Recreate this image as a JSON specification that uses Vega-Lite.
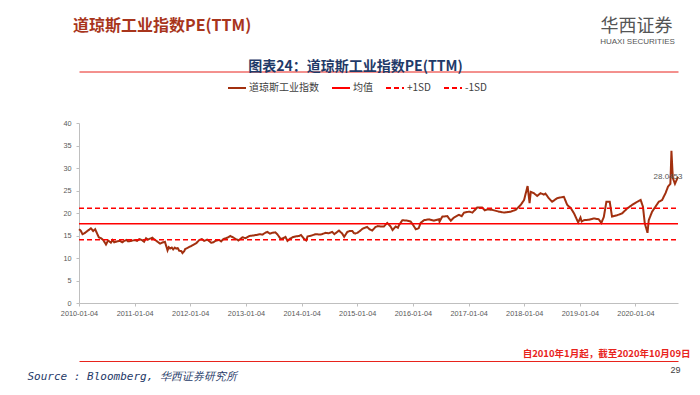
{
  "$schema": "https://vega.github.io/schema/vega-lite/v6.json",
  "width": 599,
  "height": 180,
  "autosize": {"type": "none"},
  "padding": {"left": 79, "top": 123, "right": 22, "bottom": 92},
  "background": "white",
  "title": {"text": "道琼斯工业指数PE(TTM)", "anchor": "start", "frame": "group", "dx": -6, "offset": -17, "font": "Noto Sans CJK SC", "fontSize": 16, "fontWeight": "bold", "color": "#A8351C"},
  "config": {
    "view": {"stroke": null},
    "legend": {"orient": "none", "legendX": 148, "legendY": -45, "direction": "horizontal", "symbolType": "stroke", "symbolSize": 324, "symbolStrokeWidth": 2, "labelFont": "Noto Sans CJK SC", "labelFontSize": 10, "labelColor": "#404040", "columnPadding": 9, "labelOffset": 2}
  },
  "datasets": {
    "pe": [
      {"date": "2010-01-04", "pe": 16.4}, {"date": "2010-01-15", "pe": 16.1}, {"date": "2010-01-27", "pe": 15.3}, {"date": "2010-02-09", "pe": 15.5},
      {"date": "2010-02-28", "pe": 16.0}, {"date": "2010-03-12", "pe": 16.3}, {"date": "2010-03-23", "pe": 16.6}, {"date": "2010-04-07", "pe": 16.0},
      {"date": "2010-04-20", "pe": 16.4}, {"date": "2010-05-06", "pe": 15.2}, {"date": "2010-05-14", "pe": 14.6}, {"date": "2010-05-28", "pe": 14.4},
      {"date": "2010-06-12", "pe": 14.0}, {"date": "2010-06-30", "pe": 13.0}, {"date": "2010-07-14", "pe": 13.9}, {"date": "2010-08-01", "pe": 13.4},
      {"date": "2010-08-12", "pe": 14.0}, {"date": "2010-08-23", "pe": 13.5}, {"date": "2010-09-12", "pe": 13.7}, {"date": "2010-10-01", "pe": 13.8},
      {"date": "2010-10-15", "pe": 13.5}, {"date": "2010-10-28", "pe": 13.8}, {"date": "2010-11-12", "pe": 14.0}, {"date": "2010-11-23", "pe": 13.7},
      {"date": "2010-12-13", "pe": 13.8}, {"date": "2011-01-06", "pe": 14.0}, {"date": "2011-01-20", "pe": 13.8}, {"date": "2011-02-04", "pe": 14.2},
      {"date": "2011-02-20", "pe": 14.0}, {"date": "2011-03-07", "pe": 13.6}, {"date": "2011-03-20", "pe": 14.4}, {"date": "2011-04-01", "pe": 14.1},
      {"date": "2011-04-15", "pe": 14.3}, {"date": "2011-05-01", "pe": 14.5}, {"date": "2011-05-11", "pe": 14.2}, {"date": "2011-05-31", "pe": 13.7},
      {"date": "2011-06-20", "pe": 13.2}, {"date": "2011-07-10", "pe": 13.5}, {"date": "2011-07-22", "pe": 13.6}, {"date": "2011-08-08", "pe": 11.7},
      {"date": "2011-08-16", "pe": 12.4}, {"date": "2011-08-25", "pe": 12.1}, {"date": "2011-09-05", "pe": 12.3}, {"date": "2011-09-14", "pe": 11.9},
      {"date": "2011-09-25", "pe": 12.3}, {"date": "2011-10-04", "pe": 12.1}, {"date": "2011-10-14", "pe": 12.2}, {"date": "2011-10-24", "pe": 11.6},
      {"date": "2011-11-07", "pe": 11.5}, {"date": "2011-11-14", "pe": 11.1}, {"date": "2011-11-25", "pe": 11.5}, {"date": "2011-12-02", "pe": 12.0},
      {"date": "2011-12-21", "pe": 12.3}, {"date": "2012-01-17", "pe": 12.8}, {"date": "2012-02-13", "pe": 13.3}, {"date": "2012-03-03", "pe": 14.0},
      {"date": "2012-03-20", "pe": 14.2}, {"date": "2012-04-05", "pe": 13.8}, {"date": "2012-04-24", "pe": 14.1}, {"date": "2012-05-20", "pe": 13.4},
      {"date": "2012-06-05", "pe": 13.5}, {"date": "2012-06-16", "pe": 13.8}, {"date": "2012-07-12", "pe": 14.0}, {"date": "2012-07-25", "pe": 13.7},
      {"date": "2012-08-08", "pe": 14.2}, {"date": "2012-09-03", "pe": 14.5}, {"date": "2012-09-23", "pe": 14.9}, {"date": "2012-10-10", "pe": 14.6},
      {"date": "2012-10-30", "pe": 14.2}, {"date": "2012-11-15", "pe": 13.9}, {"date": "2012-12-12", "pe": 14.6}, {"date": "2012-12-31", "pe": 14.4},
      {"date": "2013-01-26", "pe": 14.9}, {"date": "2013-02-20", "pe": 15.0}, {"date": "2013-03-10", "pe": 15.1}, {"date": "2013-04-05", "pe": 15.3},
      {"date": "2013-04-22", "pe": 15.2}, {"date": "2013-05-10", "pe": 15.6}, {"date": "2013-05-24", "pe": 15.8}, {"date": "2013-06-10", "pe": 15.4},
      {"date": "2013-06-26", "pe": 15.6}, {"date": "2013-07-15", "pe": 15.7}, {"date": "2013-07-28", "pe": 15.3}, {"date": "2013-08-20", "pe": 14.2},
      {"date": "2013-09-11", "pe": 14.5}, {"date": "2013-09-20", "pe": 14.7}, {"date": "2013-10-03", "pe": 13.8}, {"date": "2013-10-20", "pe": 14.3},
      {"date": "2013-11-05", "pe": 14.6}, {"date": "2013-11-25", "pe": 14.8}, {"date": "2013-12-19", "pe": 14.9}, {"date": "2013-12-31", "pe": 15.1},
      {"date": "2014-01-21", "pe": 14.2}, {"date": "2014-02-03", "pe": 13.9}, {"date": "2014-02-12", "pe": 14.8}, {"date": "2014-03-10", "pe": 15.0},
      {"date": "2014-04-07", "pe": 15.3}, {"date": "2014-05-10", "pe": 15.2}, {"date": "2014-06-11", "pe": 15.6}, {"date": "2014-07-01", "pe": 15.5},
      {"date": "2014-07-24", "pe": 15.8}, {"date": "2014-08-07", "pe": 15.3}, {"date": "2014-09-06", "pe": 16.1}, {"date": "2014-09-28", "pe": 15.4},
      {"date": "2014-10-10", "pe": 14.7}, {"date": "2014-10-31", "pe": 15.8}, {"date": "2014-11-15", "pe": 16.0}, {"date": "2014-12-03", "pe": 16.0},
      {"date": "2014-12-16", "pe": 15.4}, {"date": "2015-01-05", "pe": 15.6}, {"date": "2015-01-22", "pe": 16.0}, {"date": "2015-02-07", "pe": 16.5},
      {"date": "2015-03-10", "pe": 16.9}, {"date": "2015-03-25", "pe": 16.4}, {"date": "2015-04-12", "pe": 16.1}, {"date": "2015-05-04", "pe": 16.9},
      {"date": "2015-05-20", "pe": 17.1}, {"date": "2015-06-06", "pe": 17.0}, {"date": "2015-06-28", "pe": 17.0}, {"date": "2015-07-20", "pe": 17.8},
      {"date": "2015-08-11", "pe": 17.0}, {"date": "2015-08-24", "pe": 16.2}, {"date": "2015-09-13", "pe": 17.0}, {"date": "2015-09-28", "pe": 16.7},
      {"date": "2015-10-05", "pe": 17.3}, {"date": "2015-10-27", "pe": 18.4}, {"date": "2015-11-29", "pe": 18.3}, {"date": "2015-12-21", "pe": 18.1},
      {"date": "2016-01-12", "pe": 17.0}, {"date": "2016-01-23", "pe": 16.4}, {"date": "2016-02-11", "pe": 16.6}, {"date": "2016-02-24", "pe": 17.8},
      {"date": "2016-03-17", "pe": 18.4}, {"date": "2016-04-19", "pe": 18.6}, {"date": "2016-05-22", "pe": 18.3}, {"date": "2016-06-24", "pe": 18.6},
      {"date": "2016-06-27", "pe": 18.1}, {"date": "2016-07-15", "pe": 19.2}, {"date": "2016-08-17", "pe": 19.3}, {"date": "2016-09-09", "pe": 18.3},
      {"date": "2016-09-30", "pe": 19.0}, {"date": "2016-11-02", "pe": 19.6}, {"date": "2016-11-20", "pe": 19.3}, {"date": "2016-12-05", "pe": 20.1},
      {"date": "2017-01-07", "pe": 20.3}, {"date": "2017-01-29", "pe": 20.1}, {"date": "2017-03-01", "pe": 21.2}, {"date": "2017-04-03", "pe": 21.2},
      {"date": "2017-04-20", "pe": 20.6}, {"date": "2017-05-06", "pe": 20.8}, {"date": "2017-06-08", "pe": 20.7}, {"date": "2017-07-22", "pe": 20.3},
      {"date": "2017-08-24", "pe": 20.1}, {"date": "2017-10-07", "pe": 20.3}, {"date": "2017-11-09", "pe": 20.7}, {"date": "2017-12-12", "pe": 21.8},
      {"date": "2018-01-03", "pe": 22.9}, {"date": "2018-01-26", "pe": 26.0}, {"date": "2018-02-08", "pe": 22.2}, {"date": "2018-02-16", "pe": 24.7},
      {"date": "2018-03-08", "pe": 24.4}, {"date": "2018-03-30", "pe": 23.8}, {"date": "2018-04-21", "pe": 24.4}, {"date": "2018-05-12", "pe": 24.1},
      {"date": "2018-05-23", "pe": 24.3}, {"date": "2018-06-14", "pe": 23.3}, {"date": "2018-07-06", "pe": 22.5}, {"date": "2018-08-08", "pe": 23.3},
      {"date": "2018-09-21", "pe": 23.6}, {"date": "2018-10-13", "pe": 21.8}, {"date": "2018-11-05", "pe": 21.1}, {"date": "2018-11-27", "pe": 19.9},
      {"date": "2018-12-24", "pe": 17.9}, {"date": "2019-01-08", "pe": 19.0}, {"date": "2019-01-16", "pe": 18.1}, {"date": "2019-01-31", "pe": 18.4},
      {"date": "2019-03-04", "pe": 18.5}, {"date": "2019-04-05", "pe": 18.8}, {"date": "2019-05-08", "pe": 18.6}, {"date": "2019-05-25", "pe": 17.8},
      {"date": "2019-06-10", "pe": 19.1}, {"date": "2019-06-27", "pe": 22.5}, {"date": "2019-07-19", "pe": 22.5}, {"date": "2019-08-03", "pe": 19.2},
      {"date": "2019-09-05", "pe": 19.5}, {"date": "2019-10-08", "pe": 19.9}, {"date": "2019-11-10", "pe": 21.0}, {"date": "2019-12-13", "pe": 21.8},
      {"date": "2020-01-15", "pe": 22.5}, {"date": "2020-02-07", "pe": 22.9}, {"date": "2020-02-22", "pe": 21.4}, {"date": "2020-03-05", "pe": 17.7},
      {"date": "2020-03-23", "pe": 15.6}, {"date": "2020-03-31", "pe": 18.4}, {"date": "2020-04-22", "pe": 20.3}, {"date": "2020-05-14", "pe": 21.4},
      {"date": "2020-06-05", "pe": 22.5}, {"date": "2020-06-27", "pe": 22.9}, {"date": "2020-07-19", "pe": 24.4}, {"date": "2020-08-05", "pe": 25.9},
      {"date": "2020-08-20", "pe": 26.5}, {"date": "2020-08-27", "pe": 33.8}, {"date": "2020-09-05", "pe": 27.8}, {"date": "2020-09-19", "pe": 26.5},
      {"date": "2020-10-09", "pe": 28.05}
    ],
    "bands": [
      {"series": "均值", "value": 17.6},
      {"series": "+1SD", "value": 21.05},
      {"series": "-1SD", "value": 14.05}
    ],
    "last": [{"date": "2020-10-09", "pe": 28.05, "label": "28.0453"}]
  },
  "layer": [
    {
      "data": {"name": "pe"},
      "mark": {"type": "line", "strokeWidth": 2},
      "encoding": {
        "x": {
          "field": "date", "type": "temporal",
          "scale": {"domain": [{"year": 2010, "month": 1, "date": 4}, {"year": 2020, "month": 10, "date": 9}]},
          "axis": {
            "orient": "bottom",
            "values": [{"year": 2010, "month": 1, "date": 4}, {"year": 2011, "month": 1, "date": 4}, {"year": 2012, "month": 1, "date": 4}, {"year": 2013, "month": 1, "date": 4}, {"year": 2014, "month": 1, "date": 4}, {"year": 2015, "month": 1, "date": 4}, {"year": 2016, "month": 1, "date": 4}, {"year": 2017, "month": 1, "date": 4}, {"year": 2018, "month": 1, "date": 4}, {"year": 2019, "month": 1, "date": 4}, {"year": 2020, "month": 1, "date": 4}],
            "format": "%Y-%m-%d",
            "labelFont": "Liberation Sans", "labelFontSize": 7.3, "labelColor": "#595959",
            "domainColor": "#BFBFBF", "tickColor": "#BFBFBF", "tickSize": 3, "labelPadding": 3,
            "grid": false, "labelOverlap": false, "labelFlush": false,
            "title": "Source : Bloomberg, 华西证券研究所",
            "titleX": -52, "titleY": 73, "titleAlign": "left", "titleBaseline": "middle",
            "titleFont": "DejaVu Sans Mono", "titleFontSize": 11, "titleFontStyle": "italic", "titleFontWeight": "normal", "titleColor": "#1F3A68"
          }
        },
        "y": {
          "field": "pe", "type": "quantitative",
          "scale": {"domain": [0, 40]},
          "axis": {
            "orient": "left",
            "values": [0, 5, 10, 15, 20, 25, 30, 35, 40],
            "labelFont": "Liberation Sans", "labelFontSize": 7.3, "labelColor": "#595959",
            "domainColor": "#BFBFBF", "tickColor": "#BFBFBF", "tickSize": 3, "labelPadding": 5,
            "grid": false,
            "title": "29", "titleX": 596, "titleY": 246, "titleAngle": 0, "titleAlign": "center", "titleBaseline": "middle",
            "titleFont": "Liberation Sans", "titleFontSize": 9, "titleFontWeight": "normal", "titleColor": "#404040"
          }
        },
        "color": {
          "datum": "道琼斯工业指数", "type": "nominal",
          "scale": {"domain": ["道琼斯工业指数", "均值", "+1SD", "-1SD"], "range": ["#A2300F", "#FF0000", "#FF0000", "#FF0000"]},
          "legend": {"title": null}
        },
        "strokeDash": {
          "datum": "道琼斯工业指数", "type": "nominal",
          "scale": {"domain": ["道琼斯工业指数", "均值", "+1SD", "-1SD"], "range": [[1, 0], [1, 0], [5, 3], [5, 3]]},
          "legend": {"title": null}
        }
      }
    },
    {
      "data": {"name": "bands"},
      "mark": {"type": "rule", "strokeWidth": 1.5},
      "encoding": {
        "x": {
          "datum": {"year": 2010, "month": 1, "date": 4}, "type": "temporal",
          "axis": {
            "orient": "bottom", "offset": 58, "labels": false, "ticks": false, "grid": false,
            "domainColor": "#E8231C", "domainWidth": 1,
            "title": "HUAXI SECURITIES", "titleX": 558, "titleY": -320, "titleAlign": "center", "titleBaseline": "middle",
            "titleFont": "Liberation Sans", "titleFontSize": 8, "titleFontWeight": "normal", "titleColor": "#555555"
          }
        },
        "x2": {"datum": {"year": 2020, "month": 10, "date": 9}},
        "y": {
          "field": "value", "type": "quantitative",
          "axis": {
            "orient": "right", "labels": false, "ticks": false, "domain": false, "grid": false,
            "title": "自2010年1月起，截至2020年10月09日", "titleX": 12, "titleY": 230, "titleAngle": 0, "titleAlign": "right", "titleBaseline": "middle",
            "titleFont": "Noto Sans CJK SC", "titleFontSize": 9.5, "titleFontWeight": "bold", "titleColor": "#E8231C"
          }
        },
        "color": {
          "field": "series", "type": "nominal",
          "scale": {"domain": ["道琼斯工业指数", "均值", "+1SD", "-1SD"], "range": ["#A2300F", "#FF0000", "#FF0000", "#FF0000"]},
          "legend": {"title": null}
        },
        "strokeDash": {
          "field": "series", "type": "nominal",
          "scale": {"domain": ["道琼斯工业指数", "均值", "+1SD", "-1SD"], "range": [[1, 0], [1, 0], [5, 3], [5, 3]]},
          "legend": {"title": null}
        }
      }
    },
    {
      "data": {"name": "last"},
      "mark": {"type": "text", "dx": -10, "font": "Liberation Sans", "fontSize": 8, "color": "#595959"},
      "encoding": {
        "x": {
          "field": "date", "type": "temporal",
          "axis": {
            "orient": "top", "offset": 51.5, "labels": false, "ticks": false, "grid": false,
            "domainColor": "#E8231C", "domainWidth": 1,
            "title": "图表24：道琼斯工业指数PE(TTM)", "titleX": 276, "titleY": -5.5, "titleAlign": "center", "titleBaseline": "middle",
            "titleFont": "Noto Sans CJK SC", "titleFontSize": 14, "titleFontWeight": "bold", "titleColor": "#1F3A68"
          }
        },
        "y": {
          "field": "pe", "type": "quantitative",
          "axis": {
            "orient": "left", "labels": false, "ticks": false, "domain": false, "grid": false,
            "title": "华西证券", "titleX": 557, "titleY": -97, "titleAngle": 0, "titleAlign": "center", "titleBaseline": "middle",
            "titleFont": "Noto Sans CJK SC", "titleFontSize": 18, "titleFontWeight": "normal", "titleColor": "#555555"
          }
        },
        "text": {"field": "label"}
      }
    }
  ],
  "resolve": {"axis": {"x": "independent", "y": "independent"}}
}
